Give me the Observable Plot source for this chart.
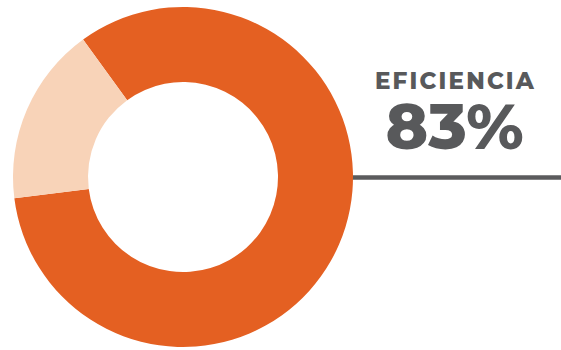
<!DOCTYPE html>
<html>
<head>
<meta charset="utf-8">
<script src="https://cdn.jsdelivr.net/npm/d3@7"></script>
<script src="https://cdn.jsdelivr.net/npm/@observablehq/plot@0.6"></script>
<style>
  html, body { margin: 0; padding: 0; background: #fff; }
  #chart svg { display: block; }
</style>
</head>
<body>
<div id="chart"></div>
<script>
// Data
const categories = ["Eficiencia", "Resto"];
const values = [83, 17];
const title = "EFICIENCIA";
const valueLabel = "83%";
const colors = ["#E46022", "#F8D3B8"];

const W = 561, H = 350;
const slices = categories.map((c, i) => ({category: c, value: values[i]}));

const color = Plot.scale({color: {type: "ordinal", domain: categories, range: colors}});

const cx = 183, cy = 177, outerR = 170, innerR = 95;
const startDeg = -36;

const donut = (index, scales, vals, dimensions) => {
  const sx = scales.x, sy = scales.y;
  const pie = d3.pie().sort(null).value(d => d.value)
    .startAngle(startDeg * Math.PI / 180)
    .endAngle(startDeg * Math.PI / 180 + 2 * Math.PI);
  const arc = d3.arc().innerRadius(innerR).outerRadius(outerR);
  const g = d3.create("svg:g")
    .attr("transform", `translate(${sx(cx)},${sy(cy)})`);
  g.selectAll("path")
    .data(pie(slices))
    .join("path")
    .attr("d", arc)
    .attr("fill", d => color.apply(d.data.category));
  return g.node();
};

const chart = Plot.plot({
  width: W,
  height: H,
  margin: 0,
  x: {domain: [0, W], range: [0, W], axis: null},
  y: {domain: [0, H], range: [0, H], axis: null},
  style: {background: "#fff"},
  marks: [
    Plot.ruleY([177], {x1: 350, x2: W, stroke: "#5B5B5D", strokeWidth: 4.5}),
    donut,
    Plot.text([title], {
      x: 455, y: 88, text: d => d, lineAnchor: "bottom", textAnchor: "middle",
      fontSize: 23, fontWeight: 800, fill: "#58595B",
      fontFamily: "Montserrat, Inter, 'Open Sans', sans-serif"
    }),
    Plot.text([valueLabel], {
      x: 454, y: 148, text: d => d, lineAnchor: "bottom", textAnchor: "middle",
      fontSize: 64, fontWeight: 800, fill: "#58595B",
      fontFamily: "Montserrat, Inter, 'Open Sans', sans-serif"
    })
  ]
});
d3.select(chart).selectAll("text")
  .filter(function() { return this.textContent === title; })
  .style("letter-spacing", "2.2px");
document.getElementById("chart").appendChild(chart);
</script>
</body>
</html>
